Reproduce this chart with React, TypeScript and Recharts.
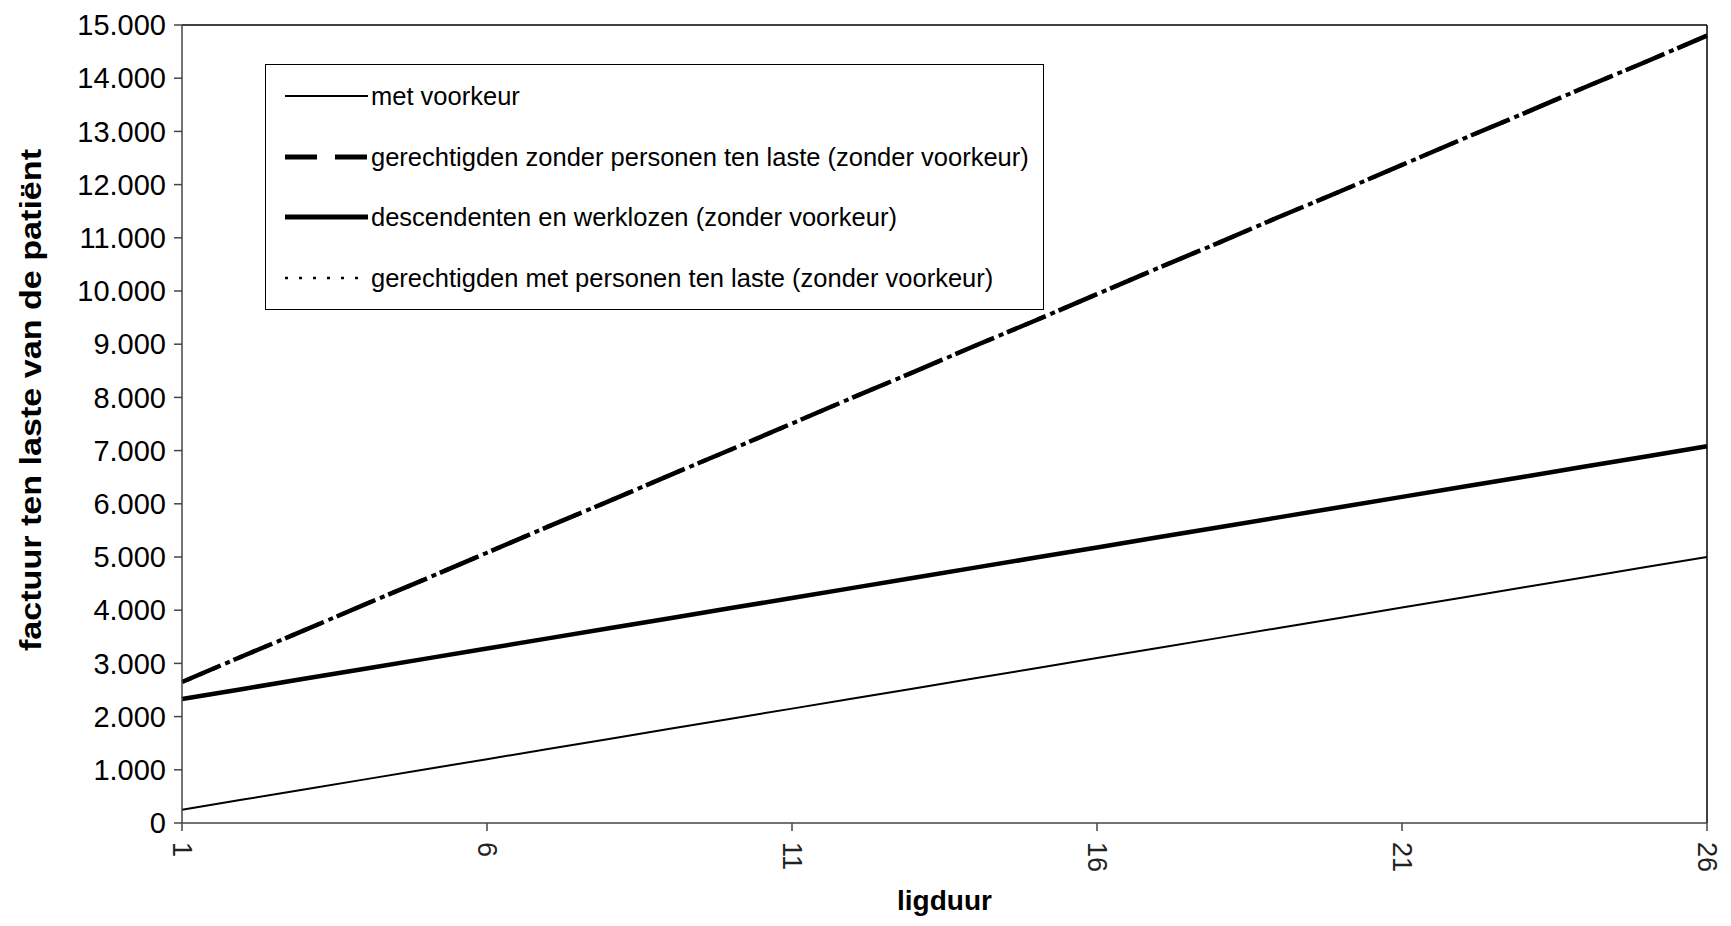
import React from 'react';
import { LineChart, Line, XAxis, YAxis, Legend, ReferenceLine } from 'recharts';

// ---- data ----
const days = [1, 2, 3, 4, 5, 6, 7, 8, 9, 10, 11, 12, 13, 14, 15, 16, 17, 18, 19, 20, 21, 22, 23, 24, 25, 26];
const metVoorkeur = [250, 440, 630, 820, 1010, 1200, 1390, 1580, 1770, 1960, 2150, 2340, 2530, 2720, 2910, 3100, 3290, 3480, 3670, 3860, 4050, 4240, 4430, 4620, 4810, 5000];
const zonderPersonen = [2650, 3140, 3620, 4110, 4590, 5080, 5570, 6050, 6540, 7020, 7510, 8000, 8480, 8970, 9450, 9940, 10430, 10910, 11400, 11880, 12370, 12860, 13340, 13830, 14310, 14800];
const descendenten = [2330, 2520, 2710, 2900, 3090, 3280, 3470, 3660, 3850, 4040, 4230, 4420, 4610, 4800, 4990, 5180, 5370, 5560, 5750, 5940, 6130, 6320, 6510, 6700, 6890, 7080];
const metPersonen = [2650, 3140, 3620, 4110, 4590, 5080, 5570, 6050, 6540, 7020, 7510, 8000, 8480, 8970, 9450, 9940, 10430, 10910, 11400, 11880, 12370, 12860, 13340, 13830, 14310, 14800];

const seriesKeys = ['metVoorkeur', 'zonderPersonen', 'descendenten', 'metPersonen'];
const seriesNames = [
  'met voorkeur',
  'gerechtigden zonder personen ten laste (zonder voorkeur)',
  'descendenten en werklozen (zonder voorkeur)',
  'gerechtigden met personen ten laste (zonder voorkeur)',
];
const xTicks = [1, 6, 11, 16, 21, 26];
const yTicks = [0, 1000, 2000, 3000, 4000, 5000, 6000, 7000, 8000, 9000, 10000, 11000, 12000, 13000, 14000, 15000];
const xTitle = 'ligduur';
const yTitle = 'factuur ten laste van de patiënt';

const data = days.map((d, i) => ({
  day: d,
  metVoorkeur: metVoorkeur[i],
  zonderPersonen: zonderPersonen[i],
  descendenten: descendenten[i],
  metPersonen: metPersonen[i],
}));

// ---- styles ----
const lineStyles: Record<string, { width: number; dash?: string; offset?: number; legendDash?: string; legendWidth: number }> = {
  metVoorkeur: { width: 2, legendWidth: 2 },
  zonderPersonen: { width: 4.5, dash: '42 14', legendDash: '32 18', legendWidth: 5 },
  descendenten: { width: 4.5, legendWidth: 5 },
  metPersonen: { width: 4, dash: '5 9', offset: -5, legendDash: '3 11', legendWidth: 2.5 },
};
const FONT = '"Liberation Sans", Arial, Helvetica, sans-serif';

const fmt = (v: number) => String(v).replace(/\B(?=(\d{3})+(?!\d))/g, '.');

const XTick = (props: any) => {
  const { x, y, payload } = props;
  const ty = y + 3;
  return (
    <text
      x={x}
      y={ty}
      dy="0.35em"
      transform={`rotate(90, ${x}, ${ty})`}
      textAnchor="start"
      fontFamily={FONT}
      fontSize={27}
      fill="#222"
    >
      {payload.value}
    </text>
  );
};

const XTitle = (props: any) => {
  const vb = props.viewBox || { x: 182, y: 823, width: 1525, height: 103 };
  return (
    <text x={vb.x + vb.width / 2} y={910} textAnchor="middle" fontFamily={FONT} fontWeight="bold" fontSize={28} fill="#000">
      {xTitle}
    </text>
  );
};

const YTitle = (props: any) => {
  const vb = props.viewBox || { x: 0, y: 25, width: 182, height: 798 };
  const cx = 41;
  const cy = vb.y + vb.height / 2 - 24;
  return (
    <text
      x={cx}
      y={cy}
      transform={`rotate(-90, ${cx}, ${cy})`}
      textAnchor="middle"
      fontFamily={FONT}
      fontWeight="bold"
      fontSize={30}
      textLength={502}
      lengthAdjust="spacingAndGlyphs"
      fill="#000"
    >
      {yTitle}
    </text>
  );
};

const rowY = [31, 92, 152, 213];

const LegendBox = () => (
  <div style={{ width: 779, height: 246, border: '1.5px solid #000', boxSizing: 'border-box', background: '#fff' }}>
    <svg width={776} height={243} style={{ display: 'block' }}>
      {seriesKeys.map((k, i) => {
        const st = lineStyles[k];
        return (
          <g key={k}>
            <line x1={19} x2={102} y1={rowY[i]} y2={rowY[i]} stroke="#000" strokeWidth={st.legendWidth} strokeDasharray={st.legendDash} />
            <text x={105} y={rowY[i]} dy="0.36em" fontFamily={FONT} fontSize={25.5} fill="#000">
              {seriesNames[i]}
            </text>
          </g>
        );
      })}
    </svg>
  </div>
);

export default function App() {
  return (
    <div style={{ position: 'absolute', left: 0, top: 0, width: 1731, height: 926, background: '#fff' }}>
      <LineChart width={1731} height={926} data={data} margin={{ top: 25, right: 24, bottom: 0, left: 0 }}>
        <XAxis
          dataKey="day"
          type="number"
          domain={[1, 26]}
          ticks={xTicks}
          interval={0}
          height={103}
          tickSize={8}
          tickMargin={8}
          tick={<XTick />}
          axisLine={{ stroke: '#444', strokeWidth: 1.5 }}
          tickLine={{ stroke: '#444', strokeWidth: 1.5 }}
          label={(p: any) => <XTitle {...p} />}
        />
        <YAxis
          type="number"
          domain={[0, 15000]}
          ticks={yTicks}
          interval={0}
          width={182}
          tickSize={8}
          tickMargin={8}
          tickFormatter={fmt}
          tick={{ fill: '#000', fontSize: 29, fontFamily: FONT }}
          axisLine={{ stroke: '#444', strokeWidth: 1.5 }}
          tickLine={{ stroke: '#444', strokeWidth: 1.5 }}
          label={(p: any) => <YTitle {...p} />}
        />
        <ReferenceLine y={15000} stroke="#000" strokeWidth={1.5} />
        <ReferenceLine x={26} stroke="#000" strokeWidth={1.5} />
        <Legend
          layout="horizontal"
          verticalAlign="middle"
          align="center"
          content={() => <LegendBox />}
          wrapperStyle={{ left: 265, top: 64, width: 779, height: 246 }}
        />
        {seriesKeys.map((k, i) => (
          <Line
            key={k}
            dataKey={k}
            name={seriesNames[i]}
            type="linear"
            stroke="#000"
            strokeWidth={lineStyles[k].width}
            strokeDasharray={lineStyles[k].dash}
            strokeDashoffset={lineStyles[k].offset}
            dot={false}
            activeDot={false}
            isAnimationActive={false}
          />
        ))}
      </LineChart>
    </div>
  );
}
